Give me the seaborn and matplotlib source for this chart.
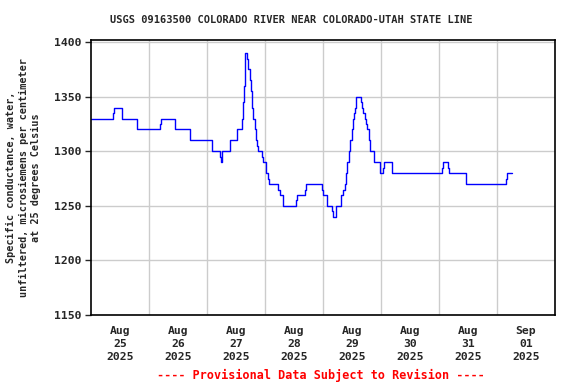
import matplotlib
matplotlib.use("Agg")
import matplotlib.pyplot as plt
import seaborn as sns
import pandas as pd
from matplotlib.ticker import FixedLocator

# hours since 2025-08-25 00:00 at which the value changes (step series)
hours = [0.0, 9.23, 9.64, 12.95, 18.91, 28.68, 29.09, 34.88, 40.84, 50.19,
         53.50, 53.92, 54.33, 57.64, 60.21, 62.28, 62.69, 63.19, 63.52, 63.72,
         64.68, 65.09, 65.79, 66.21, 66.50, 66.74, 67.16, 67.74, 68.40, 68.81,
         69.23, 70.84, 71.26, 72.41, 73.37, 73.78, 77.50, 78.33, 79.57, 84.95,
         85.36, 88.55, 89.09, 95.46, 95.92, 97.45, 97.86, 99.85, 100.26, 101.26,
         103.57, 104.48, 104.98, 105.52, 105.93, 106.76, 107.30, 107.88, 108.41, 108.70,
         109.12, 109.66, 111.72, 112.26, 112.68, 113.26, 113.79, 114.33, 114.91, 115.57,
         116.98, 117.23, 119.59, 120.96, 121.37, 124.43, 145.12, 145.53, 147.85, 148.26,
         155.05, 155.30, 171.85, 172.26, 174.33]
values = [1330, 1335, 1340, 1330, 1320, 1325, 1330, 1320, 1310, 1300,
          1295, 1290, 1300, 1310, 1320, 1330, 1345, 1360, 1380, 1390,
          1385, 1375, 1365, 1355, 1345, 1340, 1330, 1320, 1310, 1305,
          1300, 1295, 1290, 1280, 1275, 1270, 1265, 1260, 1250, 1255,
          1260, 1265, 1270, 1265, 1260, 1255, 1250, 1245, 1240, 1250,
          1260, 1265, 1270, 1280, 1290, 1300, 1310, 1320, 1330, 1335,
          1340, 1350, 1345, 1340, 1335, 1330, 1325, 1320, 1310, 1300,
          1295, 1290, 1280, 1285, 1290, 1280, 1285, 1290, 1285, 1280,
          1275, 1270, 1275, 1280, 1280]

day_labels = ["Aug\n25\n2025", "Aug\n26\n2025", "Aug\n27\n2025", "Aug\n28\n2025",
              "Aug\n29\n2025", "Aug\n30\n2025", "Aug\n31\n2025", "Sep\n01\n2025"]
y_ticks = [1150, 1200, 1250, 1300, 1350, 1400]

title = "USGS 09163500 COLORADO RIVER NEAR COLORADO-UTAH STATE LINE"
ylabel = "Specific conductance, water,\nunfiltered, microsiemens per centimeter\nat 25 degrees Celsius"
footer = "---- Provisional Data Subject to Revision ----"

sns.set_style("white")
plt.rcParams['font.family'] = ['DejaVu Sans Mono']
plt.rcParams['font.weight'] = 'bold'

df = pd.DataFrame({"hours": hours, "value": values})

fig = plt.figure(figsize=(5.76, 3.84), dpi=100)
ax = fig.add_axes([91/576, 1-315/384, (555-91)/576, (315-40)/384])

sns.lineplot(data=df, x="hours", y="value", ax=ax, estimator=None,
             drawstyle="steps-post", color="#0000ff", linewidth=1.0)

ax.set_xlim(0, 192)
ax.set_ylim(1150, 1402)

ax.xaxis.set_major_locator(FixedLocator([12 + 24*i for i in range(len(day_labels))]))
ax.set_xticklabels(day_labels, fontsize=8.2, fontweight='bold', linespacing=1.35)
ax.xaxis.set_minor_locator(FixedLocator([24*i for i in range(1, 8)]))
ax.tick_params(axis='x', which='major', length=0, pad=8)
ax.tick_params(axis='x', which='minor', length=0)
ax.grid(False)
ax.grid(True, which='minor', axis='x', color='#cccccc', linewidth=1.0)

ax.set_yticks(y_ticks)
ax.set_yticklabels([str(v) for v in y_ticks], fontsize=8.2, fontweight='bold')
ax.tick_params(axis='y', which='major', length=4, width=1, direction='out', left=True, pad=3)
ax.grid(True, which='major', axis='y', color='#cccccc', linewidth=1.0)

for s in ax.spines.values():
    s.set_color('black')
    s.set_linewidth(1.2)

ax.set_xlabel("")
ax.set_ylabel(ylabel, fontsize=7.3, fontweight='bold', linespacing=1.3, labelpad=9)

fig.text(291/576, 1-20/384, title, ha='center', va='center', fontsize=7.5, fontweight='bold')
fig.text(321/576, 1-375/384, footer, ha='center', va='center', fontsize=8.45,
         fontweight='bold', color='red')

fig.savefig("out.png", dpi=100)
